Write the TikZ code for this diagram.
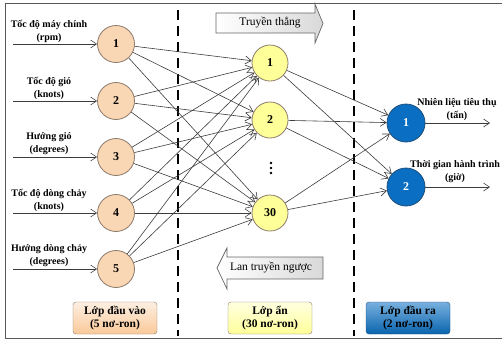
\documentclass[tikz,border=0pt]{standalone}
\usepackage{fontspec}
\setmainfont{Liberation Serif}
\usetikzlibrary{arrows.meta}
\definecolor{infill}{HTML}{F9D6B4}
\definecolor{indraw}{HTML}{8C7B6B}
\definecolor{hidfill}{HTML}{FFFF99}
\definecolor{outfill}{HTML}{0A6FC2}
\definecolor{outdraw}{HTML}{1F4E79}
\definecolor{linkgray}{HTML}{3C3C3C}
\tikzset{
  neuron/.style={circle, draw=indraw, line width=0.8pt, minimum size=37pt, inner sep=0pt,
    font=\fontsize{12}{12}\selectfont\bfseries},
  inneuron/.style={neuron, fill=infill},
  hidneuron/.style={neuron, fill=hidfill, minimum size=36pt},
  outneuron/.style={neuron, fill=outfill, draw=outdraw, text=white, minimum size=38pt},
  varlabel/.style={align=center, inner sep=0pt, font=\fontsize{10}{13}\selectfont\bfseries},
  layerbox/.style={draw=indraw, rounded corners=3pt, minimum width=84pt, minimum height=32pt,
    align=center, inner sep=0pt, font=\fontsize{11.5}{13.5}\selectfont\bfseries},
  link/.style={draw=linkgray, line width=0.6pt, -{Straight Barb[length=6pt,width=8pt]}},
  flowarrow/.style={draw=gray!80!black, line width=0.7pt, left color=white, right color=gray!30},
  flowtext/.style={inner sep=0pt, font=\fontsize{11.5}{11.5}\selectfont}
}
\begin{document}
\begin{tikzpicture}[x=1pt,y=-1pt]
  \useasboundingbox (0,0) rectangle (502,341);
  % frame and layer separators
  \draw[gray!70!black, line width=1pt] (504,3) -- (5,3) -- (5,338) -- (504,338);
  \draw[line width=1.1pt, dash pattern=on 10pt off 6pt] (178,10) -- (178,336);
  \draw[line width=1.1pt, dash pattern=on 10pt off 6pt] (354,10) -- (354,336);

  % input layer
  \node[inneuron] (i1) at (116,44)  {1};
  \node[inneuron] (i2) at (116,101) {2};
  \node[inneuron] (i3) at (116,157) {3};
  \node[inneuron] (i4) at (116,213) {4};
  \node[inneuron] (i5) at (116,269) {5};
  % hidden layer
  \node[hidneuron] (h1) at (270,63)  {1};
  \node[hidneuron] (h2) at (270,120) {2};
  \node[hidneuron] (h3) at (270,213) {30};
  \fill (271,163) circle (1.4) (271,168) circle (1.4) (271,173) circle (1.4);
  % output layer
  \node[outneuron] (o1) at (406,123) {1};
  \node[outneuron] (o2) at (406,187) {2};

  % input variables
  \node[varlabel] (l1) at (49,31)  {Tốc độ máy chính\\(rpm)};
  \node[varlabel] (l2) at (49,88)  {Tốc độ gió\\(knots)};
  \node[varlabel] (l3) at (49,144) {Hướng gió\\(degrees)};
  \node[varlabel] (l4) at (49,200) {Tốc độ dòng chảy\\(knots)};
  \node[varlabel] (l5) at (49,256) {Hướng dòng chảy\\(degrees)};
  \foreach \n in {1,...,5}
  {  \coordinate (s\n) at (13,0 |- i\n);
     \draw[link] (s\n) -- (i\n);
  }

  % output variables
  \node[varlabel] (m1) at (457,110) {Nhiên liệu tiêu thụ\\(tấn)};
  \node[varlabel] (m2) at (455,172) {Thời gian hành trình\\(giờ)};
  \coordinate (e1) at (490,123);
  \coordinate (e2) at (490,187);
  \draw[link] (o1) -- (e1);
  \draw[link] (o2) -- (e2);

  % connections
  \foreach \u in {1,...,5}
  {  \foreach \v in {1,2,3}
     {  \draw[link] (i\u) -- (h\v);
     }
  }
  \foreach \u in {1,2,3}
  {  \foreach \v in {1,2}
     {  \draw[link] (h\u) -- (o\v);
     }
  }

  % forward / backward
  \draw[flowarrow] (216,13) -- (315,13) -- (315,4) -- (323,23.5) -- (315,43) -- (315,33) -- (216,33) -- cycle;
  \node[flowtext] (fwd) at (270,23) {Truyền thẳng};
  \draw[flowarrow] (323,257) -- (227,257) -- (227,248) -- (217,268) -- (227,289) -- (227,279) -- (323,279) -- cycle;
  \node[flowtext] (bwd) at (271,268) {Lan truyền ngược};

  % layer names
  \node[layerbox, top color=infill!40, bottom color=infill!85!orange] (b1) at (115,318) {Lớp đầu vào\\(5 nơ-ron)};
  \node[layerbox, top color=hidfill!30, bottom color=hidfill] (b2) at (270,318) {Lớp ẩn\\(30 nơ-ron)};
  \node[layerbox, draw=outdraw, top color=outfill!55, bottom color=outfill!90!black] (b3) at (408,318) {Lớp đầu ra\\(2 nơ-ron)};
\end{tikzpicture}
\end{document}
